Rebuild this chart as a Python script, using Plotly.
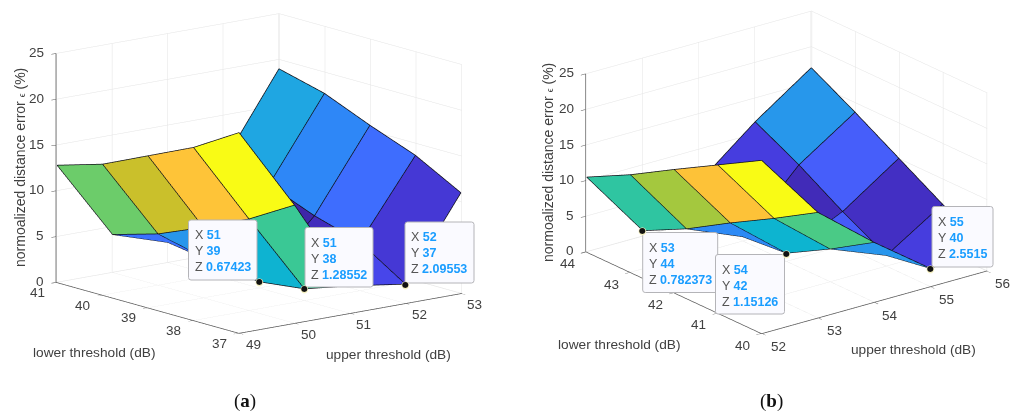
import numpy as np
import plotly.graph_objects as go

# ---------- data (a) ----------
upper_a = [49, 50, 51, 52, 53]
lower_a = [37, 38, 39, 40, 41]
# Z_a[i][j]: i indexes upper_a, j indexes lower_a
Z_a = [
    [21.9, 18.9, 16.6, 14.3, 12.8],
    [12.9, 10.0, 7.7, 5.6, 4.15],
    [3.0, 1.28552, 0.67423, 1.4, 2.2],
    [2.09553, 5.3, 6.8, 8.8, 9.9],
    [11.0, 13.7, 15.6, 17.7, 19.0],
]
tips_a = [(51, 39, "0.67423"), (51, 38, "1.28552"), (52, 37, "2.09553")]

# ---------- data (b) ----------
upper_b = [52, 53, 54, 55, 56]
lower_b = [40, 41, 42, 43, 44]
Z_b = [
    [24.3, 20.8, 17.3, 13.7, 10.5],
    [14.8, 11.1, 7.6, 3.9, 0.782373],
    [8.4, 4.6, 1.15126, 0.6, 5.4],
    [2.5515, 1.5, 4.8, 8.5, 11.7],
    [3.0, 6.5, 10.1, 13.7, 17.1],
]
tips_b = [(53, 44, "0.782373"), (54, 42, "1.15126"), (55, 40, "2.5515")]

z_ticks = [0, 5, 10, 15, 20, 25]

PARULA = ["rgb(62,38,168)", "rgb(68,50,203)", "rgb(71,65,229)", "rgb(72,82,244)", "rgb(69,99,253)",
          "rgb(56,117,254)", "rgb(46,135,247)", "rgb(39,151,235)", "rgb(32,165,227)", "rgb(18,177,214)",
          "rgb(2,186,195)", "rgb(36,193,174)", "rgb(55,200,151)", "rgb(87,204,122)", "rgb(129,204,89)",
          "rgb(171,199,57)", "rgb(209,191,39)", "rgb(240,186,54)", "rgb(254,195,56)", "rgb(250,214,45)",
          "rgb(245,233,36)", "rgb(249,251,21)"]
colorscale = [[k / (len(PARULA) - 1), c] for k, c in enumerate(PARULA)]
W, H = 1022, 412
GREY = "#404040"
PAD = 0.01          # axis range slack, so edge lines nudged toward the camera are not clipped


def view(az, el):
    a, e = np.radians(az), np.radians(el)
    return np.array([np.cos(e) * np.cos(a), np.cos(e) * np.sin(a), np.sin(e)])


def surface(xs, ys, Z, scene, aspect, az, el, color_over=None):
    Z = np.array(Z, float)
    nx, ny = Z.shape
    X, Y = np.meshgrid(xs, ys, indexing="ij")
    idx = lambda a, b: a * ny + b
    I, J, K, C = [], [], [], []
    for a in range(nx - 1):
        for b in range(ny - 1):
            c = Z[a, b]
            if color_over and (a, b) in color_over:
                c = color_over[(a, b)]
            I += [idx(a, b), idx(a + 1, b + 1)]
            J += [idx(a + 1, b), idx(a, b + 1)]
            K += [idx(a + 1, b + 1), idx(a, b)]
            C += [c, c]
    mesh = go.Mesh3d(x=X.ravel(), y=Y.ravel(), z=Z.ravel(), i=I, j=J, k=K,
                     intensity=C, intensitymode="cell", colorscale=colorscale,
                     cmin=float(Z.min()), cmax=float(Z.max()), showscale=False, flatshading=True,
                     lighting=dict(ambient=1, diffuse=0, specular=0, roughness=1, fresnel=0),
                     hoverinfo="skip", scene=scene)
    # edge lines sit a hair toward the camera so they do not z-fight with the faces
    v = view(az, el) * 0.004
    dx = v[0] * (xs[-1] - xs[0]) / aspect[0]
    dy = v[1] * (ys[-1] - ys[0]) / aspect[1]
    dz = v[2] * 25 / aspect[2]
    lx, ly, lz = [], [], []
    for a in range(nx):
        lx += list(X[a, :] + dx) + [None]; ly += list(Y[a, :] + dy) + [None]; lz += list(Z[a, :] + dz) + [None]
    for b in range(ny):
        lx += list(X[:, b] + dx) + [None]; ly += list(Y[:, b] + dy) + [None]; lz += list(Z[:, b] + dz) + [None]
    lines = go.Scatter3d(x=lx, y=ly, z=lz, mode="lines", line=dict(color="#101018", width=1.5),
                         hoverinfo="skip", showlegend=False, scene=scene)
    return [mesh, lines]


def axis(vals, pad=PAD):
    return dict(range=[vals[0] - pad, vals[-1] + pad], tickvals=vals, ticktext=[str(v) for v in vals],
                title=dict(text=""), showgrid=True, gridcolor="#e4e4e4", gridwidth=1, zeroline=False, showline=True,
                linecolor="#555555", linewidth=1.5, ticks="outside", ticklen=6, tickcolor="#555555",
                showticklabels=False, showbackground=False, showspikes=False)


def tick_notes(xs, ys, xoff, yoff, zoff, tips):
    out = []
    font = dict(family="Liberation Sans", size=13.5, color=GREY)
    for v in xs:
        out.append(dict(x=v, y=ys[0], z=0, text=str(v), showarrow=False, xshift=xoff[0], yshift=-xoff[1], font=font))
    for v in ys:
        out.append(dict(x=xs[0], y=v, z=0, text=str(v), showarrow=False, xshift=yoff[0], yshift=-yoff[1], font=font))
    for v in z_ticks:
        out.append(dict(x=xs[0], y=ys[-1], z=v, text=str(v), showarrow=False, xanchor="right",
                        xshift=zoff[0], yshift=-zoff[1], font=font))
    # data-tip anchor dots stay on top of the tip boxes
    for t in tips:
        for size, col in ((10, "#f5f0c0"), (8, "#111111")):
            out.append(dict(x=t[0], y=t[1], z=float(t[2]), text="●", showarrow=False, yshift=0,
                            font=dict(family="DejaVu Sans", size=size, color=col)))
    return out


def scene_cfg(xs, ys, domain, aspect, az, el, R, cz, xoff, yoff, zoff, tips):
    e = view(az, el)
    return dict(domain=dict(x=domain, y=[0, 1]), xaxis=axis(xs), yaxis=axis(ys), zaxis=axis(z_ticks, 0),
                aspectmode="manual", aspectratio=dict(x=aspect[0], y=aspect[1], z=aspect[2]),
                annotations=tick_notes(xs, ys, xoff, yoff, zoff, tips),
                camera=dict(projection=dict(type="orthographic"), up=dict(x=0, y=0, z=1),
                            center=dict(x=0, y=0, z=cz),
                            eye=dict(x=R * e[0], y=R * e[1], z=R * e[2] + cz)))


ASPECT_A, VIEW_A = (1.387, 1.42, 1.14), (231.3, 12.9)
ASPECT_B, VIEW_B = (1.385, 1.396, 0.926), (232.3, 21.1)

fig = go.Figure()
fig.add_traces(surface(upper_a, lower_a, Z_a, "scene", ASPECT_A, *VIEW_A))
fig.add_traces(surface(upper_b, lower_b, Z_b, "scene2", ASPECT_B, *VIEW_B, {(2, 3): 2.6}))

shapes, notes = [], []


def px(x):
    return x / W


def py(y):
    return 1 - y / H


def text(x, y, s, size=14, angle=0, family="Liberation Sans", color=GREY, anchor="center"):
    notes.append(dict(x=px(x), y=py(y), xref="paper", yref="paper", text=s, showarrow=False, textangle=angle,
                      xanchor=anchor, yanchor="middle", font=dict(family=family, size=size, color=color)))


def tipbox(x0, y0, x1, y1, tip):
    r = 2.5
    p = (f"M {px(x0+r)} {py(y0)} L {px(x1-r)} {py(y0)} Q {px(x1)} {py(y0)} {px(x1)} {py(y0+r)} "
         f"L {px(x1)} {py(y1-r)} Q {px(x1)} {py(y1)} {px(x1-r)} {py(y1)} L {px(x0+r)} {py(y1)} "
         f"Q {px(x0)} {py(y1)} {px(x0)} {py(y1-r)} L {px(x0)} {py(y0+r)} Q {px(x0)} {py(y0)} {px(x0+r)} {py(y0)} Z")
    shapes.append(dict(type="path", path=p, xref="paper", yref="paper", fillcolor="#fafaff",
                       line=dict(color="#b4b4b8", width=1), layer="above"))
    for n, (lab, val) in enumerate(zip("XYZ", tip)):
        text(x0 + 4, y0 + 15 + n * 16.1, f'{lab} <span style="color:#1a9dff"><b>{val}</b></span>', size=12.5,
             anchor="left", color="#555555")


for box, tip in zip([(188.5, 220, 257, 280), (305, 227.5, 373, 287), (405, 222, 474, 283)], tips_a):
    tipbox(*box, tip)
for box, tip in zip([(642.7, 232.5, 717.7, 292.5), (715.5, 254.5, 784.5, 314), (932, 206.5, 993, 267)], tips_b):
    tipbox(*box, tip)

ZLAB = 'normoalized distance error <span style="font-size:9px">ϵ</span> (%)'
text(20, 168, ZLAB, angle=-90)
text(548, 163, ZLAB, angle=-90)
text(94, 352, "lower threshold (dB)", size=13.7)
text(388, 354, "upper threshold (dB)", size=13.7)
text(619, 344, "lower threshold (dB)", size=13.7)
text(913, 349, "upper threshold (dB)", size=13.7)
text(244.5, 401, "(<b>a</b>)", size=19, family="Liberation Serif", color="#111111")
text(771.7, 401, "(<b>b</b>)", size=19, family="Liberation Serif", color="#111111")

fig.update_layout(width=W, height=H, margin=dict(l=0, r=0, t=0, b=0), paper_bgcolor="white", showlegend=False,
                  autosize=False, shapes=shapes, annotations=notes,
                  scene=scene_cfg(upper_a, lower_a, [0, 518 / W], ASPECT_A, *VIEW_A, 4, -0.162,
                                  (14, 11), (-20, 10), (-11, -1), tips_a),
                  scene2=scene_cfg(upper_b, lower_b, [551 / W, 1], ASPECT_B, *VIEW_B, 4, -0.175,
                                   (16.5, 13), (-19, 12), (-11, -1), tips_b))
fig.write_html("out.html", config={"displayModeBar": False},
               post_script="document.body.style.margin='0';document.body.style.overflow='hidden';")
